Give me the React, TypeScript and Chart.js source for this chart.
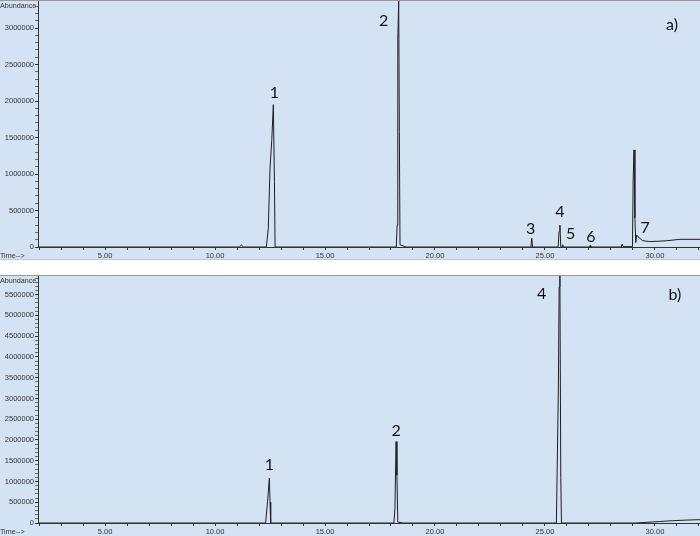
import React, { useEffect, useRef } from "react";
import { Chart, registerables } from "chart.js";

Chart.register(...registerables);

// ---- Data: panel a) ----
const timeA = [
  1.95, 11.1, 11.2, 11.3,
  12.33, 12.42, 12.5, 12.58, 12.65, 12.7, 12.73,
  18.24, 18.28, 18.31, 18.35, 18.38, 18.41, 18.55, 18.7,
  24.36, 24.4, 24.44,
  25.6, 25.64, 25.68, 25.72, 25.78, 25.81, 25.84,
  27.02, 27.05, 27.08,
  28.47, 28.51, 28.55, 28.98, 29.01, 29.05, 29.09, 29.13, 29.17, 29.23,
  29.45, 29.77, 30.1, 30.53, 31.14, 32.05,
];
const abundanceA = [
  0, 0, 25000, 0,
  0, 250000, 1080000, 1470000, 1950000, 900000, 0,
  0, 300000, 2840000, 3370000, 1580000, 30000, 15000, 0,
  0, 120000, 0,
  0, 210000, 300000, 0, 0, 30000, 0,
  0, 20000, 0,
  0, 40000, 5000, 5000, 920000, 1330000, 400000, 60000, 165000, 140000,
  86000, 75000, 78000, 86000, 105000, 105000,
];

// ---- Data: panel b) ----
const timeB = [
  1.95,
  12.3, 12.4, 12.47, 12.5, 12.53,
  18.13, 18.18, 18.23, 18.27, 18.31, 18.45, 18.55,
  25.52, 25.57, 25.61, 25.645, 25.68, 25.72, 25.75,
  29.1, 29.6, 30.2, 30.8, 31.4, 32.05,
];
const abundanceB = [
  0,
  0, 600000, 1080000, 500000, 0,
  0, 340000, 1960000, 1150000, 20000, 10000, 0,
  0, 1780000, 3250000, 5680000, 5950000, 1100000, 0,
  0, 15000, 35000, 55000, 70000, 80000,
];

// ---- Axes ----
const timeMin = 1.95;
const timeMax = 32.05;
const timeStep = 1;
const timeLabelEvery = 5;
const abundanceMaxA = 3370000;
const abundanceMaxB = 5950000;
const abundanceStep = 100000;
const abundanceLabelEvery = 500000;

// ---- Peak annotations (data coordinates) ----
const peakNamesA = ["1", "2", "3", "4", "5", "6", "7"];
const peakTimesA = [12.7, 17.66, 24.35, 25.68, 26.17, 27.09, 29.55];
const peakValuesA = [2110000, 3100000, 247000, 480000, 182000, 137000, 260000];

const peakNamesB = ["1", "2", "4"];
const peakTimesB = [12.47, 18.23, 24.85];
const peakValuesB = [1390000, 2230000, 5520000];

const panelTagA = "a)";
const panelTagB = "b)";

const TICK_FONT = { family: "'Liberation Sans', Arial, sans-serif", size: 7.5 };

const isMultiple = (v: number, step: number) => Math.abs(v / step - Math.round(v / step)) < 1e-6;

const stepTicks = (min: number, max: number, step: number) => {
  const out: { value: number }[] = [];
  for (let k = Math.ceil(min / step - 1e-9); k * step <= max + 1e-9; k++) out.push({ value: k * step });
  return out;
};

type PanelProps = {
  times: number[];
  values: number[];
  yMax: number;
  names: string[];
  nameTimes: number[];
  nameValues: number[];
  tag: string;
  tagDx: number;
  tagDy: number;
  height: number;
};

function Panel(props: PanelProps) {
  const ref = useRef<HTMLCanvasElement | null>(null);
  useEffect(() => {
    if (!ref.current) return;
    const textPlugin = {
      id: "chromText",
      afterDatasetsDraw(chart: any) {
        const { ctx, chartArea, scales } = chart;
        ctx.save();
        ctx.fillStyle = "#333";
        ctx.font = "7.2px 'Liberation Sans', Arial, sans-serif";
        ctx.textAlign = "left";
        ctx.textBaseline = "middle";
        ctx.fillText("Abundance", 0, chartArea.top + 5);
        ctx.fillText("Time-->", 0, chartArea.bottom + 9);
        ctx.fillStyle = "#111";
        ctx.font = "16px Lato, 'Open Sans', sans-serif";
        ctx.textAlign = "center";
        props.names.forEach((n, i) => {
          ctx.fillText(
            n,
            scales.x.getPixelForValue(props.nameTimes[i]),
            scales.y.getPixelForValue(props.nameValues[i])
          );
        });
        ctx.fillText(props.tag, chartArea.right - props.tagDx, chartArea.top + props.tagDy);
        ctx.restore();
      },
    };
    const chart = new Chart(ref.current, {
      type: "line",
      data: {
        datasets: [
          {
            data: props.times.map((t, i) => ({ x: t, y: props.values[i] })),
            borderColor: "#1e1e1e",
            borderWidth: 1,
            pointRadius: 0,
            tension: 0,
            fill: false,
          },
        ],
      },
      options: {
        animation: false,
        responsive: false,
        events: [],
        layout: { padding: { top: 1, left: 0, right: 0, bottom: 0 } },
        plugins: { legend: { display: false }, tooltip: { enabled: false } },
        scales: {
          x: {
            type: "linear",
            min: timeMin,
            max: timeMax,
            grid: { drawOnChartArea: false, tickLength: 3, tickColor: "#333" },
            border: { color: "#333", width: 1 },
            afterBuildTicks: (s: any) => {
              s.ticks = stepTicks(timeMin, timeMax, timeStep);
            },
            ticks: {
              autoSkip: false,
              maxRotation: 0,
              minRotation: 0,
              padding: 1,
              color: "#333",
              font: TICK_FONT,
              callback: (v: any) =>
                isMultiple(Number(v), timeLabelEvery) ? Math.round(Number(v)).toFixed(2) : "",
            },
            afterFit: (s: any) => {
              s.height = 13;
              s.paddingLeft = 0;
              s.paddingRight = 0;
            },
          },
          y: {
            type: "linear",
            min: 0,
            max: props.yMax,
            grid: {
              drawOnChartArea: false,
              tickLength: 3,
              tickColor: (c: any) =>
                c.tick && isMultiple(c.tick.value, abundanceLabelEvery) ? "#333" : "#6a6a6a",
            },
            border: { color: "#333", width: 1 },
            afterBuildTicks: (s: any) => {
              s.ticks = stepTicks(0, props.yMax, abundanceStep);
            },
            ticks: {
              autoSkip: false,
              padding: 1,
              color: "#333",
              font: TICK_FONT,
              callback: (v: any) =>
                isMultiple(Number(v), abundanceLabelEvery) ? String(Math.round(Number(v))) : "",
            },
            afterFit: (s: any) => {
              s.width = 38;
              s.paddingTop = 0;
              s.paddingBottom = 0;
            },
          },
        },
      },
      plugins: [textPlugin],
    } as any);
    return () => chart.destroy();
  }, []);
  return (
    <canvas
      ref={ref}
      width={700}
      height={props.height}
      style={{ display: "block", position: "absolute", left: 0, top: 0 }}
    />
  );
}

export default function App() {
  return (
    <div
      style={{
        position: "fixed",
        left: 0,
        top: 0,
        width: 700,
        height: 536,
        background: "#ffffff",
        overflow: "hidden",
      }}
    >
      <div
        style={{
          position: "absolute",
          left: 0,
          top: 0,
          width: 700,
          height: 260,
          background: "#d4e3f3",
        }}
      >
        <div style={{ position: "absolute", left: 0, top: 0, width: 700, height: 1, background: "#9a9a9a" }} />
        <div style={{ position: "absolute", left: 0, top: 259, width: 700, height: 1, background: "#c4c8cc" }} />
        <Panel
          times={timeA}
          values={abundanceA}
          yMax={abundanceMaxA}
          names={peakNamesA}
          nameTimes={peakTimesA}
          nameValues={peakValuesA}
          tag={panelTagA}
          tagDx={28}
          tagDy={24}
          height={260}
        />
      </div>
      <div
        style={{
          position: "absolute",
          left: 0,
          top: 275,
          width: 700,
          height: 261,
          background: "#d4e3f3",
        }}
      >
        <div style={{ position: "absolute", left: 0, top: 0, width: 700, height: 1, background: "#9a9a9a" }} />
        <Panel
          times={timeB}
          values={abundanceB}
          yMax={abundanceMaxB}
          names={peakNamesB}
          nameTimes={peakTimesB}
          nameValues={peakValuesB}
          tag={panelTagB}
          tagDx={25}
          tagDy={19}
          height={261}
        />
      </div>
    </div>
  );
}
